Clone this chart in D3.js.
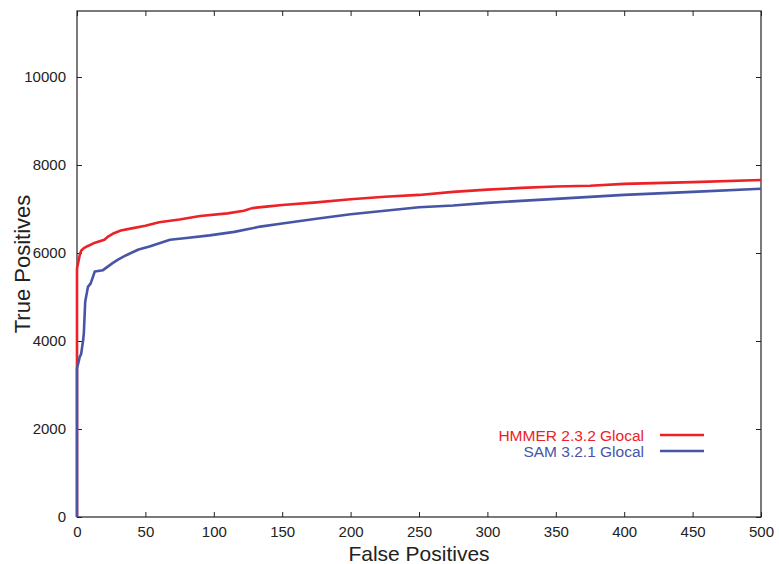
<!DOCTYPE html>
<html lang="en">
<head>
  <meta charset="UTF-8">
  <title>ROC: HMMER vs SAM</title>
  <script src="https://d3js.org/d3.v7.min.js"></script>
  <style>
    body { margin: 0; background: #fff; }
    svg text { font-family: "Liberation Sans", Arial, Helvetica, sans-serif; fill: #222; }
    .frame { fill: none; stroke: #222; stroke-width: 1.2px; }
    .tick line { stroke: #222; }
    .domain { display: none; }
    .curve { fill: none; stroke-width: 2.6px; stroke-linejoin: round; }
  </style>
</head>
<body>
  <svg id="chart" width="779" height="564"></svg>

  <script>
    // HMMER 2.3.2 Glocal (false positives / true positives)
    const fpHmmer = [0, 0, 1, 2, 3, 5, 8, 12, 16, 20, 23, 27, 32, 40, 50, 60, 75, 90, 110, 122, 128, 140, 150, 175, 200, 225, 250, 275, 300, 325, 350, 375, 400, 450, 500];
    const tpHmmer = [0, 5650, 5800, 5950, 6050, 6110, 6160, 6220, 6260, 6300, 6380, 6450, 6510, 6560, 6620, 6700, 6760, 6840, 6900, 6960, 7020, 7060, 7090, 7150, 7220, 7280, 7320, 7390, 7440, 7480, 7510, 7530, 7570, 7610, 7660];

    // SAM 3.2.1 Glocal
    const fpSam = [0, 0, 1, 2, 3, 4.5, 5, 6, 8, 10, 13, 19, 26, 30, 36, 45, 53, 68, 80, 97, 115, 134, 150, 175, 200, 225, 250, 275, 300, 350, 400, 450, 500];
    const tpSam = [0, 3380, 3500, 3640, 3700, 4020, 4180, 4890, 5230, 5310, 5580, 5610, 5770, 5850, 5950, 6080, 6150, 6300, 6340, 6400, 6480, 6600, 6670, 6780, 6880, 6960, 7040, 7080, 7140, 7230, 7320, 7390, 7460];

    const seriesNames = ["HMMER 2.3.2 Glocal", "SAM 3.2.1 Glocal"];
    const seriesColors = ["#ec2227", "#4655a5"];

    const xTicks = [0, 50, 100, 150, 200, 250, 300, 350, 400, 450, 500];
    const yTicks = [0, 2000, 4000, 6000, 8000, 10000];

    const width = 779;
    const height = 564;
    const margin = { top: 11, right: 18, bottom: 47, left: 77 };

    const svg = d3.select("#chart");

    const x = d3.scaleLinear()
      .domain([0, 500])
      .range([margin.left, width - margin.right]);

    const y = d3.scaleLinear()
      .domain([0, 11500])
      .range([height - margin.bottom, margin.top]);

    const plotW = width - margin.left - margin.right;
    const plotH = height - margin.top - margin.bottom;
    const fmt = d3.format("d");

    // axes with inward ticks on all four sides
    svg.append("g")
      .attr("transform", `translate(0, ${height - margin.bottom})`)
      .call(d3.axisBottom(x).tickValues(xTicks).tickFormat(fmt).tickSizeInner(-5).tickSizeOuter(0).tickPadding(9))
      .call(g => g.selectAll("text").attr("font-size", 15));

    svg.append("g")
      .attr("transform", `translate(0, ${margin.top})`)
      .call(d3.axisTop(x).tickValues(xTicks).tickSizeInner(-5).tickSizeOuter(0).tickFormat(""));

    svg.append("g")
      .attr("transform", `translate(${margin.left}, 0)`)
      .call(d3.axisLeft(y).tickValues(yTicks).tickFormat(fmt).tickSizeInner(-5).tickSizeOuter(0).tickPadding(11))
      .call(g => g.selectAll("text").attr("font-size", 15));

    svg.append("g")
      .attr("transform", `translate(${width - margin.right}, 0)`)
      .call(d3.axisRight(y).tickValues(yTicks).tickSizeInner(-5).tickSizeOuter(0).tickFormat(""));

    svg.append("rect")
      .attr("class", "frame")
      .attr("x", margin.left)
      .attr("y", margin.top)
      .attr("width", plotW)
      .attr("height", plotH);

    // curves
    const line = d3.line()
      .x(d => x(d[0]))
      .y(d => y(d[1]));

    const series = [
      d3.zip(fpHmmer, tpHmmer),
      d3.zip(fpSam, tpSam)
    ];

    // HMMER first so the blue sits on top along x = 0
    series.forEach((s, i) => {
      svg.append("path")
        .datum(s)
        .attr("class", "curve")
        .attr("stroke", seriesColors[i])
        .attr("d", line);
    });

    // axis titles
    svg.append("text")
      .attr("x", margin.left + plotW / 2)
      .attr("y", 561)
      .attr("text-anchor", "middle")
      .attr("font-size", 21)
      .text("False Positives");

    svg.append("text")
      .attr("transform", `translate(30, ${margin.top + plotH / 2}) rotate(-90)`)
      .attr("text-anchor", "middle")
      .attr("font-size", 22)
      .text("True Positives");

    // legend
    const legend = svg.append("g").attr("transform", "translate(644, 435)");
    seriesNames.forEach((name, i) => {
      const row = legend.append("g").attr("transform", `translate(0, ${i * 16})`);
      row.append("text")
        .attr("x", 0)
        .attr("y", 5.5)
        .attr("text-anchor", "end")
        .attr("font-size", 15.5)
        .style("fill", seriesColors[i])
        .text(name);
      row.append("line")
        .attr("x1", 16)
        .attr("x2", 60)
        .attr("stroke", seriesColors[i])
        .attr("stroke-width", 2.6);
    });
  </script>
</body>
</html>
